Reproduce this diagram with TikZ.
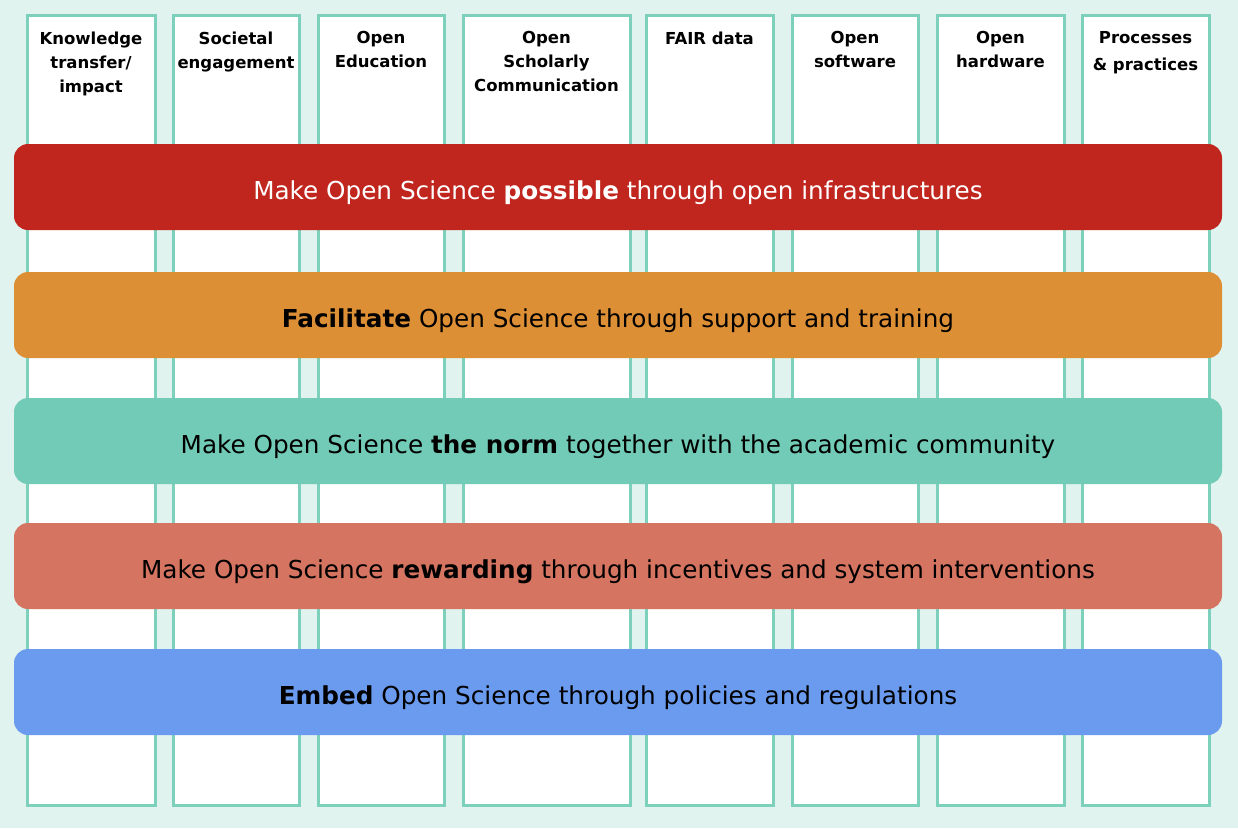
\documentclass[tikz,border=0pt]{standalone}
\usepackage{fontspec}
\setmainfont{DejaVu Sans}
\usepackage{tikz}
\usetikzlibrary{positioning}

\definecolor{bgmint}{HTML}{E0F3EF}
\definecolor{colline}{HTML}{7DD1BC}
\definecolor{barred}{HTML}{C0261E}
\definecolor{barorange}{HTML}{DD8F35}
\definecolor{barteal}{HTML}{72CBB6}
\definecolor{barsalmon}{HTML}{D57461}
\definecolor{barblue}{HTML}{6A9BEE}

\tikzset{
  colbox/.style={draw=colline, line width=3pt, fill=white, anchor=north west,
    minimum height=790pt, inner sep=0pt},
  coltext/.style={anchor=north, align=center, font=\bfseries\fontsize{16.5}{24}\selectfont,
    inner sep=0pt},
  pillar/.style={rounded corners=14pt, minimum width=1208pt, minimum height=86pt,
    inner sep=0pt, text height=25pt, text depth=0pt,
    font=\fontsize{24.7}{28}\selectfont, text=black}
}

\begin{document}
\begin{tikzpicture}[x=1pt,y=-1pt]
\fill[bgmint] (0,0) rectangle (1238,828);
\useasboundingbox (0,0) rectangle (1238,828);
% columns
\node[colbox, minimum width=128pt] (c1) at (25.5,14) {};
\node[colbox, minimum width=126pt] (c2) at (171.5,14) {};
\node[colbox, minimum width=126pt] (c3) at (316.5,14) {};
\node[colbox, minimum width=167pt] (c4) at (461.5,14) {};
\node[colbox, minimum width=127pt] (c5) at (644.5,14) {};
\node[colbox, minimum width=126pt] (c6) at (790.5,14) {};
\node[colbox, minimum width=127pt] (c7) at (935.5,14) {};
\node[colbox, minimum width=127pt] (c8) at (1080.5,14) {};
% column headings
\node[coltext] (t1) at ([yshift=-17.5pt]c1.north) {Knowledge\\transfer/\\impact};
\node[coltext] (t2) at ([yshift=-17.5pt]c2.north) {Societal\\engagement};
\node[coltext] (t3) at ([yshift=-17.5pt]c3.north) {Open\\Education};
\node[coltext] (t4) at ([yshift=-17.5pt]c4.north) {Open\\Scholarly\\Communication};
\node[coltext] (t5) at ([yshift=-17.5pt]c5.north) {FAIR data};
\node[coltext] (t6) at ([yshift=-17.5pt]c6.north) {Open\\software};
\node[coltext] (t7) at ([yshift=-17.5pt]c7.north) {Open\\hardware};
\node[coltext] (t8) at ([yshift=-17.5pt]c8.north) {Processes\\[3pt]\& practices};
% bars
\node[pillar, fill=barred, text=white] (b1) at (618,187) {Make Open Science \textbf{possible} through open infrastructures};
\node[pillar, fill=barorange] (b2) at (618,315) {\textbf{Facilitate} Open Science through support and training};
\node[pillar, fill=barteal] (b3) at (618,441) {Make Open Science \textbf{the norm} together with the academic community};
\node[pillar, fill=barsalmon] (b4) at (618,566) {Make Open Science \textbf{rewarding} through incentives and system interventions};
\node[pillar, fill=barblue] (b5) at (618,692) {\textbf{Embed} Open Science through policies and regulations};
\end{tikzpicture}
\end{document}
